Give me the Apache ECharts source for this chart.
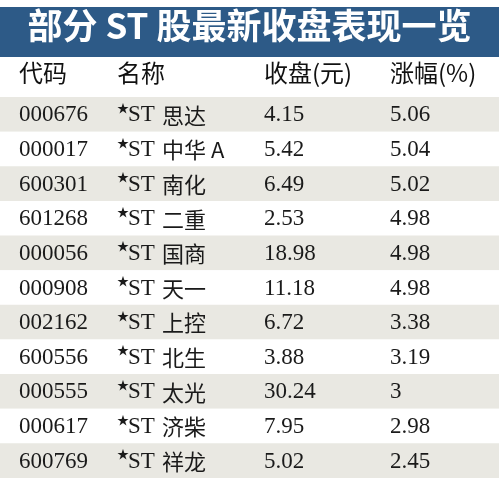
<!DOCTYPE html>
<html><head><meta charset="utf-8">
<script src="https://cdn.jsdelivr.net/npm/echarts@6/dist/echarts.min.js"></script>
<style>html,body{margin:0;padding:0;background:#fff}#c{width:499px;height:487px}</style>
</head><body><div id="c"></div>
<script>
const title = "部分 ST 股最新收盘表现一览";
const headers = ["代码", "名称", "收盘(元)", "涨幅(%)"];
const codes = ["000676", "000017", "600301", "601268", "000056", "000908", "002162", "600556", "000555", "000617", "600769"];
const names = ["思达", "中华 A", "南化", "二重", "国商", "天一", "上控", "北生", "太光", "济柴", "祥龙"];
const closes = ["4.15", "5.42", "6.49", "2.53", "18.98", "11.18", "6.72", "3.88", "30.24", "7.95", "5.02"];
const changes = ["5.06", "5.04", "5.02", "4.98", "4.98", "4.98", "3.38", "3.19", "3", "2.98", "2.45"];

const colX = [19, 117, 264, 390];
const serif = "'Liberation Serif', 'Noto Sans CJK SC', serif";
const cjk = "'Noto Sans CJK SC', sans-serif";

const chart = echarts.init(document.getElementById("c"));
chart.setOption({
	animation: false,
	grid: { left: 0, right: 0, top: 97, bottom: 9 },
	xAxis: { type: "value", min: 0, max: 499, show: false },
	yAxis: { type: "category", data: codes, inverse: true, show: false },
	graphic: [
		{ type: "rect", shape: { x: 0, y: 7, width: 499, height: 50 }, style: { fill: "#2d5a87" } },
		{ type: "text", left: "center", top: 8, style: { text: title, fill: "#fff", font: "bold 35px " + cjk } },
		...headers.map((h, i) => ({
			type: "text", left: colX[i], top: 61,
			style: { text: h, fill: "#111", font: "24px " + cjk }
		}))
	],
	series: [{
		type: "custom",
		data: codes.map((c, i) => [i]),
		renderItem: function (params, api) {
			const i = api.value(0);
			const p = api.coord([0, i]);
			const h = api.size([0, 1])[1];
			const mid = p[1];
			const font = "23px " + serif;
			const t = (x, s) => ({ type: "text", style: { x: x, y: mid + 1, text: s, fill: "#1a1a1a", font: font, verticalAlign: "middle" } });
			return {
				type: "group",
				children: [
					{ type: "rect", shape: { x: 0, y: mid - h / 2, width: 499, height: h }, style: { fill: i % 2 === 0 ? "#e9e8e2" : "#fff" } },
					t(colX[0], codes[i]),
					{ type: "text", style: { x: colX[1], y: mid - 6, text: "★", fill: "#1a1a1a", font: "12px " + cjk, verticalAlign: "middle" } },
					t(colX[1] + 11, "ST"),
					{ type: "text", style: { x: colX[1] + 45, y: mid + 1, text: names[i], fill: "#1a1a1a", font: "22px " + cjk, verticalAlign: "middle" } },
					t(colX[2], closes[i]),
					t(colX[3], changes[i])
				]
			};
		}
	}]
});
</script></body></html>
